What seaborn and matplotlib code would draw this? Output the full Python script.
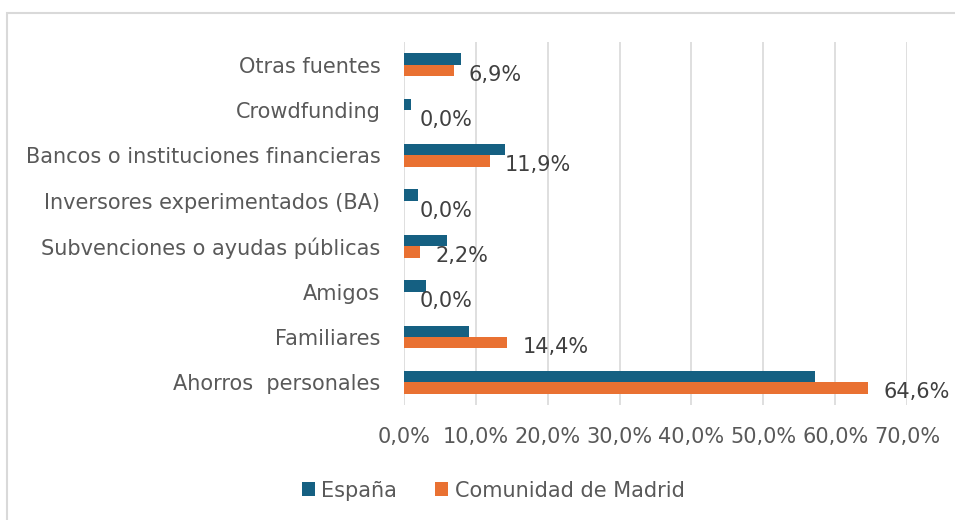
import matplotlib
matplotlib.use("Agg")
import matplotlib.pyplot as plt
import seaborn as sns
import pandas as pd
from matplotlib.patches import Rectangle

categorias = ["Otras fuentes", "Crowdfunding", "Bancos o instituciones financieras",
              "Inversores experimentados (BA)", "Subvenciones o ayudas públicas",
              "Amigos", "Familiares", "Ahorros  personales"]
espana = [8.0, 1.0, 14.0, 1.9, 6.0, 3.0, 9.0, 57.2]
madrid = [6.9, 0.0, 11.9, 0.0, 2.2, 0.0, 14.4, 64.6]
series = ["España", "Comunidad de Madrid"]
xticks = [0, 10, 20, 30, 40, 50, 60, 70]

df = pd.DataFrame({
    "categoria": categorias * 2,
    "valor": espana + madrid,
    "serie": [series[0]] * len(categorias) + [series[1]] * len(categorias),
})

sns.set_theme(style="white")
plt.rcParams["font.family"] = ["DejaVu Sans"]

fig = plt.figure(figsize=(9.55, 5.2), dpi=100)
ax = fig.add_axes([404/955, 1-405/520, (907-404)/955, (405-42)/520])

pal = {"España": "#156082", "Comunidad de Madrid": "#E97132"}
sns.barplot(data=df, y="categoria", x="valor", hue="serie", order=categorias,
            hue_order=series, palette=pal, orient="h", width=0.5, ax=ax,
            saturation=1, legend=True, errorbar=None, linewidth=0)

fs = 15
ax.set_xlim(0, 70)
ax.set_xticks(xticks)
ax.set_xticklabels([f"{v:.1f}%".replace(".", ",") for v in xticks],
                   fontsize=fs, color="#595959")
ax.tick_params(axis="y", labelsize=fs, labelcolor="#595959", length=0, pad=17)
ax.tick_params(axis="x", length=0, pad=16)
ax.set_xlabel("")
ax.set_ylabel("")
for s in ax.spines.values():
    s.set_visible(False)
ax.grid(axis="x", color="#D9D9D9", linewidth=1.2)
ax.set_axisbelow(True)

cont = ax.containers[1]
anns = ax.bar_label(cont, labels=[f"{v:.1f}%".replace(".", ",") for v in madrid],
                    padding=11, fontsize=fs, color="#404040")
for a in anns:
    a.xyann = (11, -3)

ax.legend(loc="upper center", bbox_to_anchor=(493/955, 1-462/520),
          bbox_transform=fig.transFigure, ncol=2, frameon=False,
          fontsize=fs, handlelength=0.65, handleheight=0.65,
          handletextpad=0.3, columnspacing=1.8, labelcolor="#595959")

fig.patches.append(Rectangle((7/955, -0.1), 1.2, 1-13/520+0.1,
                             transform=fig.transFigure, fill=False,
                             edgecolor="#D9D9D9", linewidth=1.5))

fig.savefig("out.png", dpi=100)
